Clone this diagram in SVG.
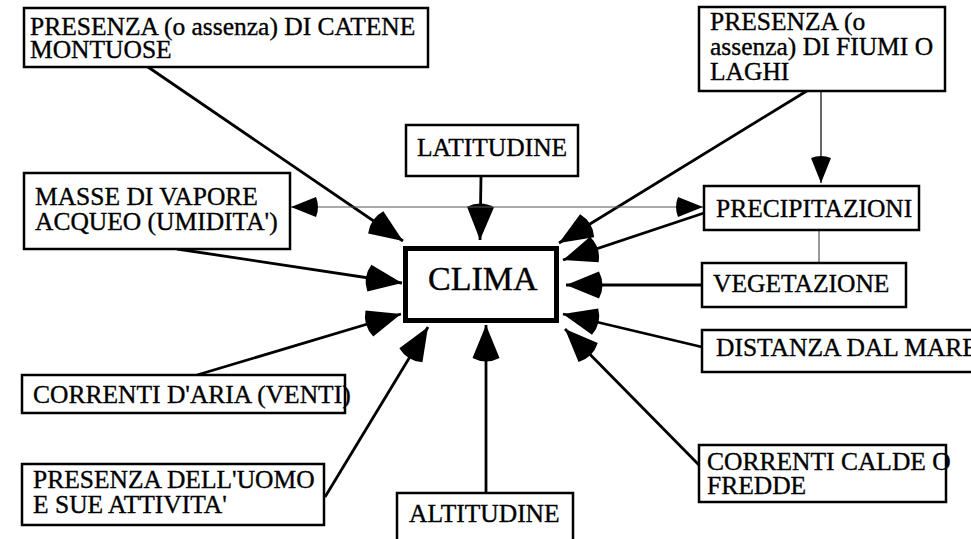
<svg xmlns="http://www.w3.org/2000/svg" width="971" height="539" viewBox="0 0 971 539">
<defs>
<style>
.box{fill:#fff;stroke:#000;stroke-width:2.5}
.main{fill:#fff;stroke:#000;stroke-width:5}
.t{font-family:"Liberation Serif","Times New Roman",serif;font-size:25.5px;fill:#000;stroke:#000;stroke-width:0.35}
.big{font-family:"Liberation Serif","Times New Roman",serif;font-size:34px;fill:#000;stroke:#000;stroke-width:0.4}
.c{fill:none;stroke:#000;stroke-width:2.8;marker-end:url(#big)}
.thin{fill:none;stroke:#555;stroke-width:1.2}
</style>
<marker id="big" markerUnits="userSpaceOnUse" markerWidth="60" markerHeight="60" refX="0" refY="0" orient="auto" overflow="visible">
<path d="M0,0 L-33,-13.5 Q-40,0 -33,13.5 Z" fill="#000"/>
</marker>
<marker id="small" markerUnits="userSpaceOnUse" markerWidth="40" markerHeight="40" refX="0" refY="0" orient="auto-start-reverse" overflow="visible">
<path d="M0,0 L-25,-10 Q-29,0 -25,10 Z" fill="#000"/>
</marker>
</defs>
<rect width="971" height="539" fill="#fff"/>
<g id="connectors">
<line class="c" x1="481" y1="176" x2="480" y2="240"/>
<line class="c" x1="148" y1="67" x2="403" y2="241"/>
<line class="c" x1="177" y1="249" x2="402" y2="283"/>
<line class="c" x1="197" y1="375" x2="401" y2="314"/>
<line class="c" x1="325" y1="497" x2="428" y2="327"/>
<line class="c" x1="486" y1="493" x2="486" y2="325"/>
<line class="c" x1="810" y1="89" x2="559" y2="243"/>
<line class="c" x1="704" y1="213" x2="563" y2="260"/>
<line class="c" x1="702" y1="285" x2="566" y2="285"/>
<line class="c" x1="702" y1="347" x2="563" y2="314"/>
<line class="c" x1="699" y1="465" x2="565" y2="329"/>
<line class="thin" x1="291" y1="207" x2="703" y2="207" marker-start="url(#small)" marker-end="url(#small)"/>
<line x1="821" y1="90" x2="821" y2="183" stroke="#000" stroke-width="1.2" marker-end="url(#small)"/>
<line class="thin" x1="819" y1="230" x2="819" y2="263"/>
</g>
<g id="clima">
<rect class="main" x="405.5" y="248.5" width="151" height="72"/>
<text class="big" x="428" y="290">CLIMA</text>
</g>
<g id="catene">
<rect class="box" x="24" y="8" width="404" height="59"/>
<text class="t" x="30" y="35">PRESENZA (o assenza) DI CATENE</text>
<text class="t" x="30" y="58">MONTUOSE</text>
</g>
<g id="fiumi">
<rect class="box" x="699" y="7" width="246" height="84"/>
<text class="t" x="710" y="30">PRESENZA (o</text>
<text class="t" x="710" y="55">assenza) DI FIUMI O</text>
<text class="t" x="710" y="80">LAGHI</text>
</g>
<g id="latitudine">
<rect class="box" x="406" y="125" width="172" height="51"/>
<text class="t" x="417" y="156">LATITUDINE</text>
</g>
<g id="masse">
<rect class="box" x="24" y="173" width="266" height="76"/>
<text class="t" x="35" y="205">MASSE DI VAPORE</text>
<text class="t" x="35" y="230">ACQUEO (UMIDITA')</text>
</g>
<g id="precipitazioni">
<rect class="box" x="704" y="186" width="215" height="44"/>
<text class="t" x="716" y="217">PRECIPITAZIONI</text>
</g>
<g id="vegetazione">
<rect class="box" x="702" y="263" width="204" height="44"/>
<text class="t" x="713" y="292">VEGETAZIONE</text>
</g>
<g id="distanza">
<rect class="box" x="702" y="330" width="300" height="42"/>
<text class="t" x="716" y="356">DISTANZA DAL MARE</text>
</g>
<g id="correnti-aria">
<rect class="box" x="22" y="375" width="323" height="38"/>
<text class="t" x="33" y="403">CORRENTI D'ARIA (VENTI)</text>
</g>
<g id="correnti-calde">
<rect class="box" x="699" y="445" width="247" height="57"/>
<text class="t" x="707" y="470">CORRENTI CALDE O</text>
<text class="t" x="707" y="494">FREDDE</text>
</g>
<g id="uomo">
<rect class="box" x="22" y="464" width="302" height="61"/>
<text class="t" x="33" y="488">PRESENZA DELL'UOMO</text>
<text class="t" x="33" y="513">E SUE ATTIVITA'</text>
</g>
<g id="altitudine">
<rect class="box" x="397" y="493" width="176" height="60"/>
<text class="t" x="409" y="522">ALTITUDINE</text>
</g>
</svg>
